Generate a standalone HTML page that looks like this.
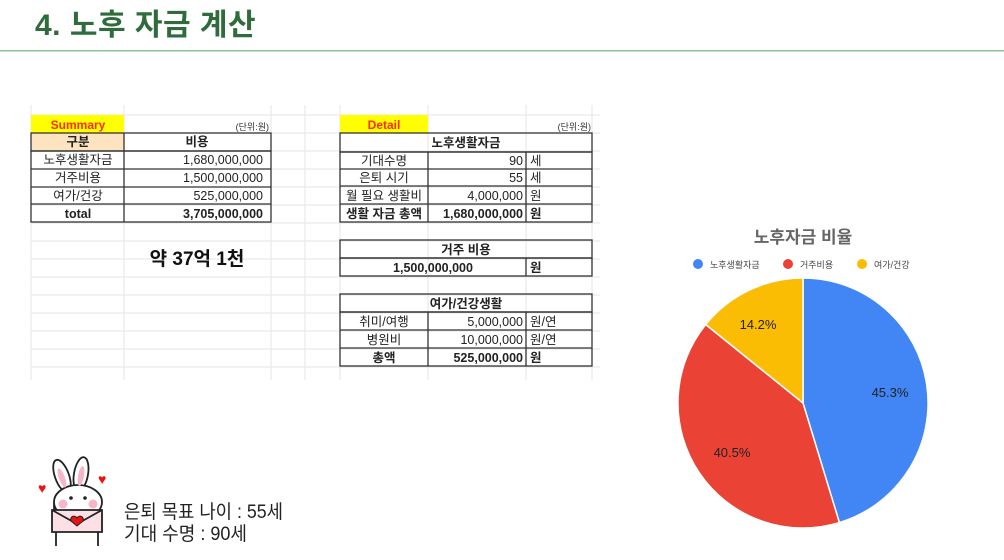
<!DOCTYPE html>
<html><head><meta charset="utf-8"><style>
html,body{margin:0;padding:0;background:#fff;}
svg{display:block;font-family:"Liberation Sans","Noto Sans CJK KR",sans-serif;}
</style></head><body>
<svg width="1004" height="560" viewBox="0 0 1004 560" xmlns="http://www.w3.org/2000/svg">
<text x="35" y="35" font-size="30" font-weight="bold" fill="#2f6b3b" letter-spacing="0.5">4. 노후 자금 계산</text>
<rect x="0" y="50" width="1004" height="1.5" fill="#8fbf98"/>

<!-- grid -->
<g stroke="#e6e6e6" stroke-width="1">
<line x1="31" y1="105" x2="31" y2="380"/><line x1="124" y1="105" x2="124" y2="380"/>
<line x1="271" y1="105" x2="271" y2="380"/><line x1="305" y1="105" x2="305" y2="380"/>
<line x1="340" y1="105" x2="340" y2="380"/><line x1="428" y1="105" x2="428" y2="380"/>
<line x1="526" y1="105" x2="526" y2="380"/><line x1="592" y1="105" x2="592" y2="380"/>
<line x1="31" y1="115" x2="600" y2="115"/><line x1="31" y1="133" x2="600" y2="133"/>
<line x1="31" y1="151" x2="600" y2="151"/><line x1="31" y1="169" x2="600" y2="169"/>
<line x1="31" y1="187" x2="600" y2="187"/><line x1="31" y1="205" x2="600" y2="205"/>
<line x1="31" y1="223" x2="600" y2="223"/><line x1="31" y1="241" x2="600" y2="241"/>
<line x1="31" y1="259" x2="600" y2="259"/><line x1="31" y1="277" x2="600" y2="277"/>
<line x1="31" y1="295" x2="600" y2="295"/><line x1="31" y1="313" x2="600" y2="313"/>
<line x1="31" y1="331" x2="600" y2="331"/><line x1="31" y1="349" x2="600" y2="349"/>
<line x1="31" y1="367" x2="600" y2="367"/>
</g>

<!-- Summary -->
<rect x="31" y="115" width="93" height="18" fill="#ffff00"/>
<text x="78" y="129" font-size="12" font-weight="bold" fill="#ff2a00" text-anchor="middle">Summary</text>
<text x="269" y="130" font-size="9" fill="#333" text-anchor="end">(단위:원)</text>
<rect x="31" y="133" width="93" height="18" fill="#fce4c0"/>
<g fill="none" stroke="#333" stroke-width="1.3">
<rect x="31" y="133" width="240" height="18"/>
<rect x="31" y="151" width="240" height="71"/>
<line x1="124" y1="133" x2="124" y2="222"/>
<line x1="31" y1="169" x2="271" y2="169"/><line x1="31" y1="187" x2="271" y2="187"/><line x1="31" y1="204" x2="271" y2="204"/>
</g>
<g font-size="12.5" fill="#222">
<text x="78" y="146" text-anchor="middle" font-weight="bold">구분</text>
<text x="197" y="146" text-anchor="middle" font-weight="bold">비용</text>
<text x="78" y="164" text-anchor="middle">노후생활자금</text>
<text x="78" y="182" text-anchor="middle">거주비용</text>
<text x="78" y="200" text-anchor="middle">여가/건강</text>
<text x="78" y="218" text-anchor="middle" font-weight="bold">total</text>
<text x="263" y="164" text-anchor="end">1,680,000,000</text>
<text x="263" y="182" text-anchor="end">1,500,000,000</text>
<text x="263" y="200" text-anchor="end">525,000,000</text>
<text x="263" y="218" text-anchor="end" font-weight="bold">3,705,000,000</text>
</g>
<text x="197" y="265" font-size="19" font-weight="bold" fill="#111" text-anchor="middle">약 37억 1천</text>

<!-- Detail -->
<rect x="340" y="115" width="88" height="18" fill="#ffff00"/>
<text x="384" y="129" font-size="12" font-weight="bold" fill="#ff2a00" text-anchor="middle">Detail</text>
<text x="591" y="130" font-size="9" fill="#333" text-anchor="end">(단위:원)</text>
<g fill="none" stroke="#333" stroke-width="1.3">
<rect x="340" y="133" width="252" height="19"/>
<rect x="340" y="152" width="252" height="70"/>
<line x1="428" y1="152" x2="428" y2="222"/><line x1="526" y1="152" x2="526" y2="222"/>
<line x1="340" y1="169" x2="592" y2="169"/><line x1="340" y1="186" x2="592" y2="186"/><line x1="340" y1="204" x2="592" y2="204"/>
<rect x="340" y="240" width="252" height="18"/>
<rect x="340" y="258" width="252" height="18"/>
<line x1="526" y1="258" x2="526" y2="276"/>
<rect x="340" y="294" width="252" height="18"/>
<rect x="340" y="312" width="252" height="54"/>
<line x1="428" y1="312" x2="428" y2="366"/><line x1="526" y1="312" x2="526" y2="366"/>
<line x1="340" y1="330" x2="592" y2="330"/><line x1="340" y1="348" x2="592" y2="348"/>
</g>
<g font-size="12.5" fill="#222">
<text x="466" y="147" text-anchor="middle" font-weight="bold">노후생활자금</text>
<text x="384" y="165" text-anchor="middle">기대수명</text>
<text x="384" y="182" text-anchor="middle">은퇴 시기</text>
<text x="384" y="200" text-anchor="middle">월 필요 생활비</text>
<text x="384" y="218" text-anchor="middle" font-weight="bold">생활 자금 총액</text>
<text x="523" y="165" text-anchor="end">90</text>
<text x="523" y="182" text-anchor="end">55</text>
<text x="523" y="200" text-anchor="end">4,000,000</text>
<text x="523" y="218" text-anchor="end" font-weight="bold">1,680,000,000</text>
<text x="530" y="165">세</text><text x="530" y="182">세</text>
<text x="530" y="200">원</text><text x="530" y="218" font-weight="bold">원</text>
<text x="466" y="254" text-anchor="middle" font-weight="bold">거주 비용</text>
<text x="433" y="272" text-anchor="middle" font-weight="bold">1,500,000,000</text>
<text x="530" y="272" font-weight="bold">원</text>
<text x="466" y="308" text-anchor="middle" font-weight="bold">여가/건강생활</text>
<text x="384" y="326" text-anchor="middle">취미/여행</text>
<text x="384" y="344" text-anchor="middle">병원비</text>
<text x="384" y="362" text-anchor="middle" font-weight="bold">총액</text>
<text x="523" y="326" text-anchor="end">5,000,000</text>
<text x="523" y="344" text-anchor="end">10,000,000</text>
<text x="523" y="362" text-anchor="end" font-weight="bold">525,000,000</text>
<text x="530" y="326">원/연</text><text x="530" y="344">원/연</text><text x="530" y="362" font-weight="bold">원</text>
</g>

<!-- Pie -->
<text x="803" y="243" font-size="17" font-weight="bold" fill="#666" text-anchor="middle">노후자금 비율</text>
<circle cx="698" cy="264" r="5" fill="#4285f4"/><text x="710" y="268" font-size="9" fill="#444">노후생활자금</text>
<circle cx="788" cy="264" r="5" fill="#ea4335"/><text x="800" y="268" font-size="9" fill="#444">거주비용</text>
<circle cx="862" cy="264" r="5" fill="#fbbc04"/><text x="874" y="268" font-size="9" fill="#444">여가/건강</text>
<g stroke="#fff" stroke-width="1.5">
<path d="M803,403 L803,278 A125,125 0 0 1 839.4,522.6 Z" fill="#4285f4"/>
<path d="M803,403 L839.4,522.6 A125,125 0 0 1 705.7,324.5 Z" fill="#ea4335"/>
<path d="M803,403 L705.7,324.5 A125,125 0 0 1 803,278 Z" fill="#fbbc04"/>
</g>
<text x="890" y="397" font-size="13" fill="#222" text-anchor="middle">45.3%</text>
<text x="732" y="457" font-size="13" fill="#222" text-anchor="middle">40.5%</text>
<text x="758" y="329" font-size="13" fill="#222" text-anchor="middle">14.2%</text>

<!-- bunny -->
<g stroke="#222" stroke-width="1.8" fill="#fff">
<ellipse cx="62" cy="476" rx="7" ry="17" transform="rotate(-20 62 476)"/>
<ellipse cx="81" cy="474" rx="7" ry="17" transform="rotate(10 81 474)"/>
<path d="M56,546 L56,520 Q52,505 56,495 L98,495 Q102,505 98,520 L98,546"/>
<ellipse cx="78" cy="502" rx="24" ry="17"/>
<path d="M52,510 L102,510 L102,532 L52,532 Z" fill="#fde0e6"/>
<path d="M52,510 L77,524 L102,510" fill="none"/>
</g>
<ellipse cx="62" cy="478" rx="3" ry="10" fill="#f7b6c8" transform="rotate(-20 62 478)"/>
<ellipse cx="81" cy="476" rx="3" ry="10" fill="#f7b6c8" transform="rotate(10 81 476)"/>
<circle cx="63" cy="504" r="4.5" fill="#f7b6c8"/><circle cx="93" cy="504" r="4.5" fill="#f7b6c8"/>
<circle cx="71" cy="498" r="1.8" fill="#222"/><circle cx="85" cy="498" r="1.8" fill="#222"/>
<path d="M77,526 l-6,-5 a3.2,3.2 0 0 1 6,-3 a3.2,3.2 0 0 1 6,3 z" fill="#e11" stroke="#222" stroke-width="1"/>
<text x="38" y="493" font-size="14" fill="#e11">♥</text>
<text x="98" y="484" font-size="14" fill="#e11">♥</text>
<text x="124" y="518" font-size="19" fill="#222" textLength="159" lengthAdjust="spacingAndGlyphs">은퇴 목표 나이 : 55세</text>
<text x="124" y="540" font-size="19" fill="#222" textLength="123" lengthAdjust="spacingAndGlyphs">기대 수명 : 90세</text>
</svg>
</body></html>
